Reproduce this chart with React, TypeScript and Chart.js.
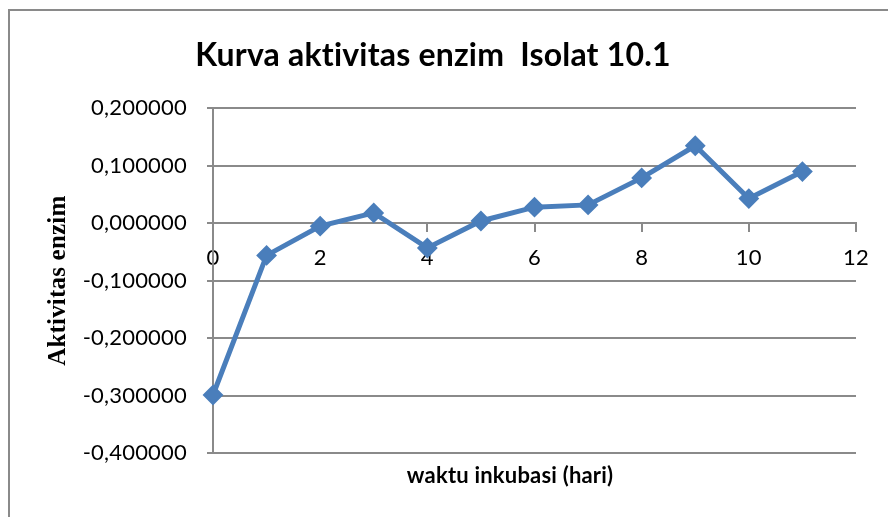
import React, { useEffect, useRef } from 'react';
import { Chart, registerables } from 'chart.js';

Chart.register(...registerables);

const chartTitle = 'Kurva aktivitas enzim  Isolat 10.1';
const xAxisTitle = 'waktu inkubasi (hari)';
const yAxisTitle = 'Aktivitas enzim';

const days = [0, 1, 2, 3, 4, 5, 6, 7, 8, 9, 10, 11];
const activity = [-0.299, -0.056, -0.005, 0.018, -0.043, 0.004, 0.028, 0.032, 0.079, 0.135, 0.043, 0.09];

const xTicks = [0, 2, 4, 6, 8, 10, 12];
const xTickLabels = ['0', '2', '4', '6', '8', '10', '12'];
const yTicks = [-0.4, -0.3, -0.2, -0.1, 0, 0.1, 0.2];
const yTickLabels = ['-0,400000', '-0,300000', '-0,200000', '-0,100000', '0,000000', '0,100000', '0,200000'];

const GRAY = '#8a8a8a';
const BLUE = '#4a7ebb';

const noLigaturePlugin = {
  id: 'noLigatures',
  beforeDraw(chart: any) {
    (chart.ctx as any).letterSpacing = '0.2px';
  },
};

const xTitlePlugin = {
  id: 'xTitleText',
  afterDraw(chart: any) {
    const { ctx, chartArea } = chart;
    ctx.save();
    ctx.font = 'bold 22px Lato';
    ctx.fillStyle = '#000';
    ctx.textAlign = 'center';
    ctx.textBaseline = 'middle';
    ctx.fillText(xAxisTitle, chartArea.left + chartArea.width * 0.462, chartArea.bottom + 23);
    ctx.restore();
  },
};

export default function App() {
  const ref = useRef<HTMLCanvasElement | null>(null);

  useEffect(() => {
    document.documentElement.style.overflow = 'hidden';
    const canvas = ref.current;
    if (!canvas) return;
    const chart = new Chart(canvas, {
      type: 'line',
      data: {
        datasets: [
          {
            data: days.map((d, i) => ({ x: d, y: activity[i] })),
            borderColor: BLUE,
            backgroundColor: BLUE,
            borderWidth: 5,
            pointStyle: 'rectRot',
            pointRadius: 9,
            pointBorderWidth: 2,
            pointBackgroundColor: BLUE,
            pointBorderColor: BLUE,
            tension: 0,
            clip: false as any,
          },
        ],
      },
      options: {
        responsive: false,
        animation: false,
        devicePixelRatio: 1,
        layout: { padding: { left: 0, right: 32, top: 0, bottom: 64 } },
        plugins: {
          legend: { display: false },
          tooltip: { enabled: false },
          title: {
            display: true,
            text: chartTitle,
            color: '#000',
            font: { family: 'Lato', size: 32, weight: 'bold', lineHeight: 1.2 },
            padding: { top: 25, bottom: 34 },
          },
        },
        scales: {
          x: {
            type: 'linear',
            position: { y: 0 } as any,
            min: 0,
            max: 12,
            afterBuildTicks: (s: any) => {
              s.ticks = xTicks.map((v) => ({ value: v }));
            },
            afterFit: (s: any) => {
              s.paddingLeft = 0;
              s.paddingRight = 0;
            },
            ticks: {
              color: '#000',
              font: { family: 'Lato', size: 22 },
              padding: 13,
              maxRotation: 0,
              autoSkip: false,
              callback: (_v: any, i: number) => xTickLabels[i],
            },
            grid: {
              display: true,
              drawOnChartArea: false,
              drawTicks: true,
              tickLength: 8,
              color: GRAY,
              lineWidth: 2,
            },
            border: { display: true, color: GRAY, width: 2 },
          },
          y: {
            type: 'linear',
            position: 'left',
            min: -0.4,
            max: 0.2,
            afterBuildTicks: (s: any) => {
              s.ticks = yTicks.map((v) => ({ value: v }));
            },
            afterFit: (s: any) => {
              s.width = 203;
              s.paddingTop = 0;
              s.paddingBottom = 0;
            },
            ticks: {
              color: '#000',
              font: { family: 'Lato', size: 22 },
              padding: 20,
              autoSkip: false,
              callback: (_v: any, i: number) => yTickLabels[i],
            },
            grid: {
              display: true,
              drawOnChartArea: true,
              drawTicks: true,
              tickLength: 6,
              color: GRAY,
              lineWidth: 2,
            },
            border: { display: true, color: GRAY, width: 2 },
            title: {
              display: true,
              text: yAxisTitle,
              color: '#000',
              font: { family: 'Liberation Serif', size: 25, weight: 'bold', lineHeight: 1.2 },
              padding: { top: 34, bottom: 0 },
            },
          },
        },
      },
      plugins: [noLigaturePlugin, xTitlePlugin],
    });
    return () => chart.destroy();
  }, []);

  return (
    <div
      style={{
        position: 'absolute',
        left: 8,
        top: 9,
        width: 880,
        height: 508,
        borderTop: `2px solid ${GRAY}`,
        borderLeft: `2px solid ${GRAY}`,
        boxSizing: 'border-box',
        background: '#fff',
      }}
    >
      <canvas ref={ref} width={878} height={506} style={{ display: 'block' }} />
    </div>
  );
}
